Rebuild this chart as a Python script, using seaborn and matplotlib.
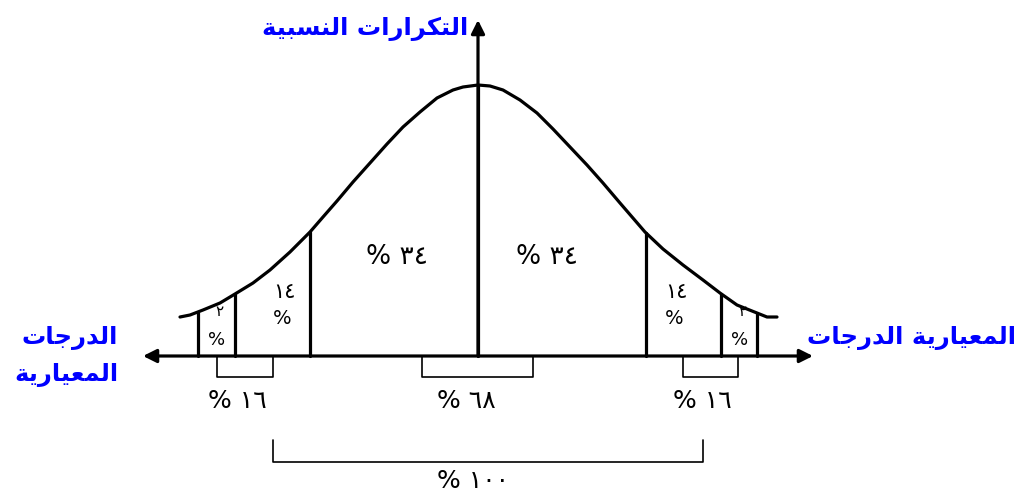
import numpy as np
import seaborn as sns
import matplotlib.pyplot as plt

sns.set_theme(style="white")
plt.rcParams['font.family'] = ['DejaVu Sans']
plt.rcParams['text.color'] = 'black'

# bell curve (x, y in units of 100 px, origin at the axes cross)
curve_x = [-2.98, -2.88, -2.75, -2.58, -2.43, -2.25, -2.08, -1.88, -1.68, -1.55, -1.41,
           -1.25, -1.08, -0.91, -0.75, -0.58, -0.41, -0.25, -0.15, 0.0,
           0.12, 0.25, 0.42, 0.59, 0.75, 0.92, 1.09, 1.25, 1.42, 1.67, 1.85,
           2.05, 2.25, 2.42, 2.59, 2.79, 2.89, 2.99]
curve_y = [0.39, 0.41, 0.46, 0.53, 0.62, 0.73, 0.86, 1.04, 1.24, 1.39, 1.55,
           1.74, 1.93, 2.12, 2.29, 2.44, 2.58, 2.66, 2.69, 2.71,
           2.70, 2.66, 2.56, 2.43, 2.27, 2.09, 1.91, 1.73, 1.53, 1.24, 1.07,
           0.91, 0.76, 0.63, 0.51, 0.43, 0.39, 0.39]

# dividing lines under the curve
bounds = [-2.80, -2.43, -1.68, 0.0, 1.68, 2.43, 2.79]

# area labels
area_pct = ['٢', '١٤', '٣٤', '٣٤', '١٤', '٢']
area_x = [-2.59, -1.94, -0.81, 0.69, 1.98, 2.64]

# brackets below the axis
box_left = [-2.61, -0.56, 2.05]
box_right = [-2.05, 0.55, 2.60]
box_label = ['١٦', '٦٨', '١٦']
box_label_x = [-2.41, -0.12, 2.24]
big_left, big_right = -2.05, 2.25
big_label = '١٠٠'

axis_left, axis_right, axis_top = -3.35, 3.35, 3.36


def visual(codes):
    # Arabic presentation forms, given in reading order, flipped for LTR drawing
    return ''.join(chr(c) if isinstance(c, int) else c for c in codes)[::-1]


title_y = visual([0xFE8D, 0xFEDF, 0xFE98, 0xFEDC, 0xFEAE, 0xFE8D, 0xFEAD, 0xFE8D, 0xFE95, ' ',
                  0xFE8D, 0xFEDF, 0xFEE8, 0xFEB4, 0xFE92, 0xFEF4, 0xFE94])
word1 = visual([0xFE8D, 0xFEDF, 0xFEAA, 0xFEAD, 0xFE9F, 0xFE8E, 0xFE95])
word2 = visual([0xFE8D, 0xFEDF, 0xFEE4, 0xFECC, 0xFEF4, 0xFE8E, 0xFEAD, 0xFEF3, 0xFE94])

fig = plt.figure(figsize=(10.23, 4.92), dpi=100)
ax = fig.add_axes([0, 0, 1, 1])
ax.set_xlim(-4.78, 5.45)
ax.set_ylim(-1.36, 3.56)
ax.axis('off')

sns.lineplot(x=curve_x, y=curve_y, color='black', lw=2.3, sort=False, ax=ax,
             solid_joinstyle='round', solid_capstyle='round')

for b in bounds:
    ax.plot([b, b], [0, np.interp(b, curve_x, curve_y)], color='black', lw=2.3)

# axes with arrow heads
arrow = dict(arrowstyle='-|>', color='black', lw=2.3, mutation_scale=20, shrinkA=0, shrinkB=0)
ax.annotate('', xy=(axis_right, 0), xytext=(0, 0), arrowprops=arrow)
ax.annotate('', xy=(axis_left, 0), xytext=(0, 0), arrowprops=arrow)
ax.annotate('', xy=(0, axis_top), xytext=(0, 0), arrowprops=arrow)

# labels inside the areas
for x, t in zip(area_x, area_pct):
    if t == '٣٤':
        ax.text(x, 0.99, '% ' + t, ha='center', va='center', fontsize=19)
    elif t == '١٤':
        ax.text(x, 0.64, t, ha='center', va='center', fontsize=15)
        ax.text(x - 0.02, 0.38, '%', ha='center', va='center', fontsize=14)
    else:
        ax.text(x, 0.44, t, ha='center', va='center', fontsize=11)
        ax.text(x - 0.02, 0.16, '%', ha='center', va='center', fontsize=13)

for l, r, t, tx in zip(box_left, box_right, box_label, box_label_x):
    ax.plot([l, l, r, r], [0, -0.21, -0.21, 0], color='black', lw=1.2)
    ax.text(tx, -0.45, '% ' + t, ha='center', va='center', fontsize=18)

ax.plot([big_left, big_left, big_right, big_right], [-0.84, -1.06, -1.06, -0.84], color='black', lw=1.2)
ax.text(-0.05, -1.25, '% ' + big_label, ha='center', va='center', fontsize=18)

blue = '#0000ff'
ax.text(-0.10, 3.27, title_y, ha='right', va='center', color=blue, fontsize=17.5, fontweight='bold')
ax.text(3.29, 0.18, word1 + ' ' + word2, ha='left', va='center', color=blue, fontsize=17.5, fontweight='bold')
ax.text(-3.60, 0.18, word1, ha='right', va='center', color=blue, fontsize=17.5, fontweight='bold')
ax.text(-3.60, -0.19, word2, ha='right', va='center', color=blue, fontsize=17.5, fontweight='bold')

fig.savefig('out.png', dpi=100)
